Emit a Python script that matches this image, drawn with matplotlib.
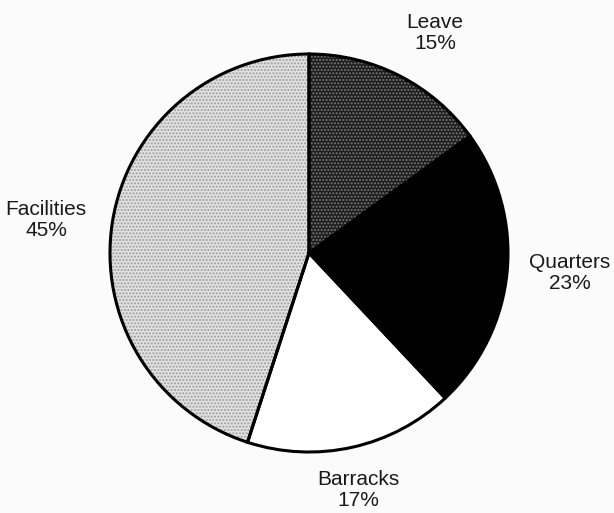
import numpy as np
import matplotlib.pyplot as plt

plt.rcParams['font.family'] = ['Liberation Sans', 'DejaVu Sans']
plt.rcParams['hatch.linewidth'] = 1.0

# slices, clockwise from 12 o'clock
labels = ['Leave', 'Quarters', 'Barracks', 'Facilities']
shares = [15, 23, 17, 45]
face = ['#1c1c1c', '#000000', '#ffffff', '#e2e2e2']
dots = ['#7a7a7a', '#000000', '#ffffff', '#9c9c9c']
hatch = ['.....', None, None, '.....']

fig = plt.figure(figsize=(6.14, 5.13), dpi=100)
fig.patch.set_facecolor('#fbfbfb')
ax = fig.add_axes([0.1759, 0.115, 0.6547, 0.7836])

# fills with dotted texture
wedges, _ = ax.pie(shares, startangle=90, counterclock=False, colors=face,
                   wedgeprops=dict(linewidth=0))
for w, d, h in zip(wedges, dots, hatch):
    w.set_edgecolor(d)
    if h:
        w.set_hatch(h)

# outlines on top
ax.pie(shares, startangle=90, counterclock=False,
       wedgeprops=dict(facecolor='none', edgecolor='black', linewidth=2.2))

ax.set_aspect('auto')
ax.set_xlim(-1.01, 1.01)
ax.set_ylim(-1.01, 1.01)
ax.axis('off')

# label positions in figure pixels (x, y from top)
pos = [(435, 33), (570, 273), (358, 490), (46, 220)]
for name, val, (px, py) in zip(labels, shares, pos):
    fig.text(px / 614, 1 - py / 513, f'{name}\n{val}%', ha='center', va='center',
             fontsize=15, color='#1a1a1a', linespacing=1.1)

fig.savefig('out.png', dpi=100, facecolor=fig.get_facecolor())
